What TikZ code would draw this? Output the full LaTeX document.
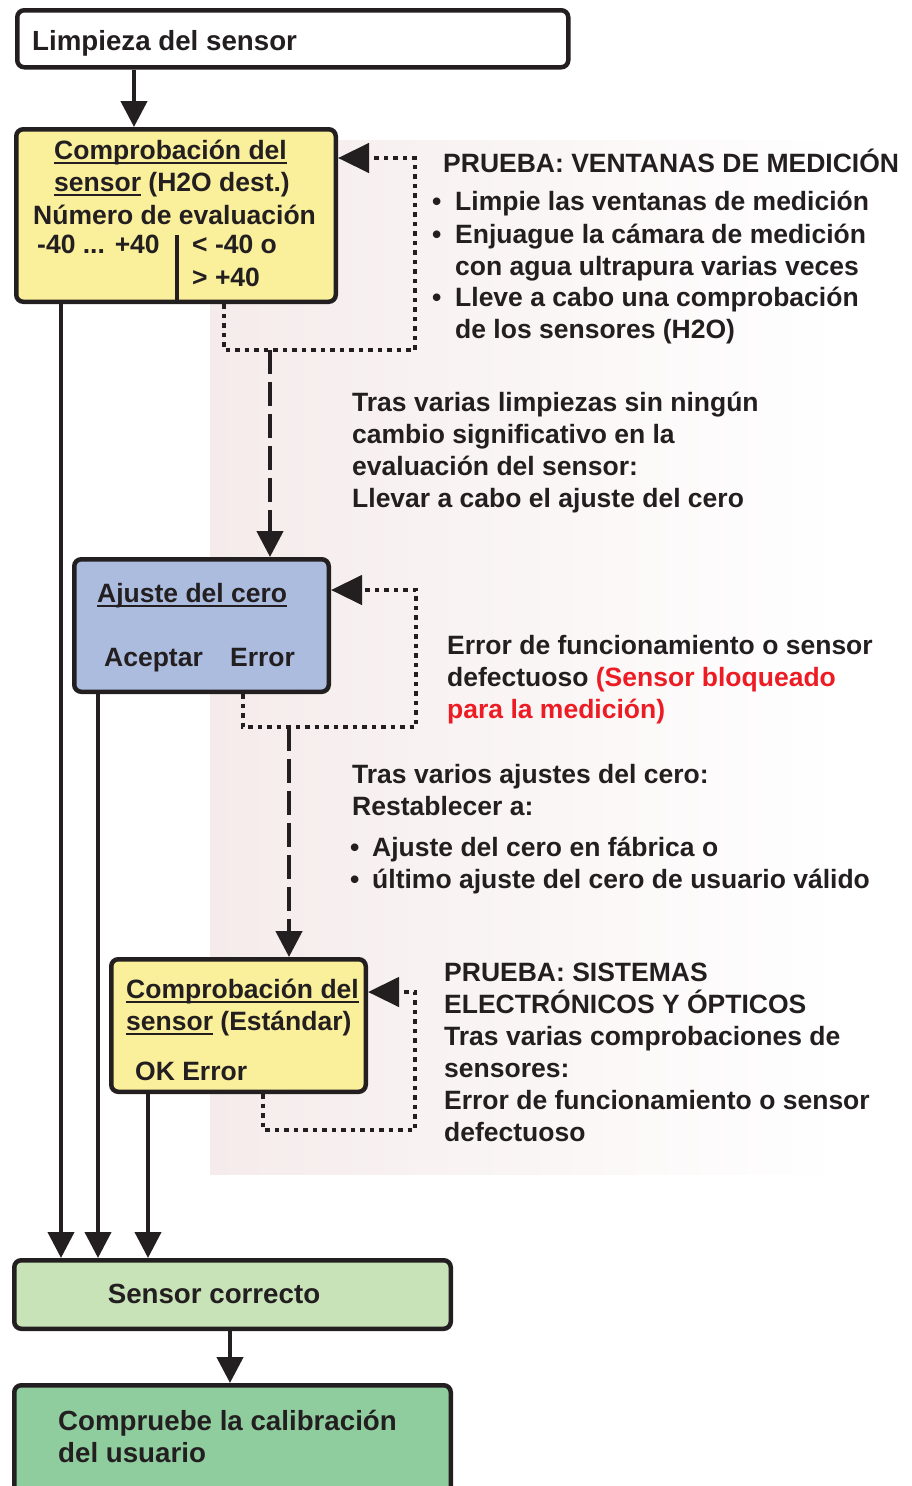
\documentclass[tikz,border=0pt]{standalone}
\usepackage{fontspec}
\setmainfont{Liberation Sans}
\usetikzlibrary{arrows.meta}
\definecolor{ink}{HTML}{231F20}
\definecolor{yel}{HTML}{FAEF9B}
\definecolor{blu}{HTML}{ABBCDE}
\definecolor{lgreen}{HTML}{C8E3B8}
\definecolor{dgreen}{HTML}{8FCD9F}
\definecolor{redt}{HTML}{ED1C24}
\definecolor{pinkbg}{HTML}{F5EBEB}
\newcommand\F{\fontsize{26.5}{32}\selectfont\bfseries}
\newcommand\FL{\fontsize{27.7}{32}\selectfont\bfseries}
\newcommand\myul[1]{\setbox0\hbox{#1}\rlap{\color{ink}\rule[-4.5pt]{\wd0}{2pt}}\box0\relax}
\begin{document}
\begin{tikzpicture}[x=1pt,y=-1pt,
  box/.style={draw=ink, line width=4.5pt, rounded corners=7pt, inner sep=0pt, anchor=north west},
  txt/.style={anchor=base west, inner sep=0pt, font=\F, text=ink},
  ltxt/.style={txt, font=\FL},
  arr/.style={draw=ink, line width=4.5pt, -{Triangle[width=26pt,length=26pt]}},
  conn/.style={draw=ink, line width=4pt, -{Triangle[width=26pt,length=26pt]}},
  dotl/.style={draw=ink, line width=4.5pt, dash pattern=on 4.5pt off 5pt, -{Triangle[width=29pt,length=31pt]}},
  dashl/.style={draw=ink, line width=4.5pt, dash pattern=on 24pt off 8pt, -{Triangle[width=26pt,length=26pt]}}
]
\useasboundingbox (0,0) rectangle (912,1486);
\shade[left color=pinkbg, right color=white] (210,140) rectangle (840,1174);

% boxes
\node[box, fill=white, minimum width=551pt, minimum height=57pt] (clean) at (15,8) {};
\node[box, fill=yel, minimum width=319.5pt, minimum height=172.5pt] (chk1) at (14,127) {};
\node[box, fill=blu, minimum width=254.5pt, minimum height=132.5pt] (blue) at (72,557) {};
\node[box, fill=yel, minimum width=254.5pt, minimum height=132.5pt] (chk2) at (109,957) {};
\node[box, fill=lgreen, minimum width=436.5pt, minimum height=68.5pt] (sc) at (12,1258) {};
\node[box, fill=dgreen, minimum width=436.5pt, minimum height=150pt] (fin) at (12,1383) {};

% box texts
\node[ltxt] (tclean) at (32,50) {Limpieza del sensor};
\node[txt] (c1a) at (54,159) {\myul{Comprobación del}};
\node[txt] (c1b) at (54,191) {\myul{sensor} (H2O dest.)};
\node[txt] (c1c) at (33,224) {Número de evaluación};
\node[txt] (c1d) at (37,253) {-40 ... +40};
\node[txt] (c1e) at (192,253) {< -40 o};
\node[txt] (c1f) at (192,286) {> +40};
\coordinate (divt) at (177,235);
\draw[ink, line width=4.5pt] (divt) -- (divt |- chk1.south);

\node[txt] (b1) at (97,602) {\myul{Ajuste del cero}};
\node[txt] (b2) at (104,666) {Aceptar};
\node[txt] (b3) at (230,666) {Error};

\node[txt] (c2a) at (126,998) {\myul{Comprobación del}};
\node[txt] (c2b) at (126,1030) {\myul{sensor} (Estándar)};
\node[txt] (c2c) at (135,1080) {OK Error};

\node[ltxt, anchor=base] (tsc) at (214,1303) {Sensor correcto};
\node[ltxt] (f1) at (58,1430) {Compruebe la calibración};
\node[ltxt] (f2) at (58,1462) {del usuario};

% right texts
\node[txt] (r1) at (443,172) {PRUEBA: VENTANAS DE MEDICIÓN};
\node[txt] (r1a) at (432,210) {•};
\node[txt] (r1b) at (455,210) {Limpie las ventanas de medición};
\node[txt] (r1c) at (432,243) {•};
\node[txt] (r1d) at (455,243) {Enjuague la cámara de medición};
\node[txt] (r1e) at (455,275) {con agua ultrapura varias veces};
\node[txt] (r1f) at (432,306) {•};
\node[txt] (r1g) at (455,306) {Lleve a cabo una comprobación};
\node[txt] (r1h) at (455,338) {de los sensores (H2O)};

\node[txt] (r2a) at (352,411) {Tras varias limpiezas sin ningún};
\node[txt] (r2b) at (352,443) {cambio significativo en la};
\node[txt] (r2c) at (352,475) {evaluación del sensor:};
\node[txt] (r2d) at (352,507) {Llevar a cabo el ajuste del cero};

\node[txt] (r3a) at (447,654) {Error de funcionamiento o sensor};
\node[txt] (r3b) at (447,686) {defectuoso \textcolor{redt}{(Sensor bloqueado}};
\node[txt, text=redt] (r3c) at (447,718) {para la medición)};

\node[txt] (r4a) at (352,783) {Tras varios ajustes del cero:};
\node[txt] (r4b) at (352,815) {Restablecer a:};
\node[txt] (r4c) at (350,856) {•};
\node[txt] (r4d) at (372,856) {Ajuste del cero en fábrica o};
\node[txt] (r4e) at (350,888) {•};
\node[txt] (r4f) at (372,888) {último ajuste del cero de usuario válido};

\node[txt] (r5a) at (444,981) {PRUEBA: SISTEMAS};
\node[txt] (r5b) at (444,1013) {ELECTRÓNICOS Y ÓPTICOS};
\node[txt] (r5c) at (444,1045) {Tras varias comprobaciones de};
\node[txt] (r5d) at (444,1077) {sensores:};
\node[txt] (r5e) at (444,1109) {Error de funcionamiento o sensor};
\node[txt] (r5f) at (444,1141) {defectuoso};

% solid arrows
\coordinate (a0) at ([xshift=119pt]clean.south west);
\draw[arr] (a0) -- (a0 |- chk1.north);
\coordinate (s1) at ([xshift=47pt]chk1.south west);
\draw[conn] (s1) -- (s1 |- sc.north);
\coordinate (s2) at ([xshift=26pt]blue.south west);
\draw[conn] (s2) -- (s2 |- sc.north);
\coordinate (s3) at ([xshift=39pt]chk2.south west);
\draw[conn] (s3) -- (s3 |- sc.north);
\coordinate (s4) at ([xshift=218pt]sc.south west);
\draw[arr] (s4) -- (s4 |- fin.north);

% loop 1
\coordinate (l1s) at ([xshift=210pt]chk1.south west);
\coordinate (l1c) at (415,350);
\draw[dotl] (l1s) |- (l1c) |- ([yshift=-31pt]chk1.north east);
\coordinate (d1) at (270,350);
\draw[dashl] (d1) -- (d1 |- blue.north);

% loop 2
\coordinate (l2s) at ([xshift=171pt]blue.south west);
\coordinate (l2c) at (416,727);
\draw[dotl] (l2s) |- (l2c) |- ([yshift=-33pt]blue.north east);
\coordinate (d2) at (289,727);
\draw[dashl] (d2) -- (d2 |- chk2.north);

% loop 3
\coordinate (l3s) at ([xshift=154pt]chk2.south west);
\coordinate (l3c) at (415,1130);
\draw[dotl] (l3s) |- (l3c) |- ([yshift=-35pt]chk2.north east);
\end{tikzpicture}
\end{document}
